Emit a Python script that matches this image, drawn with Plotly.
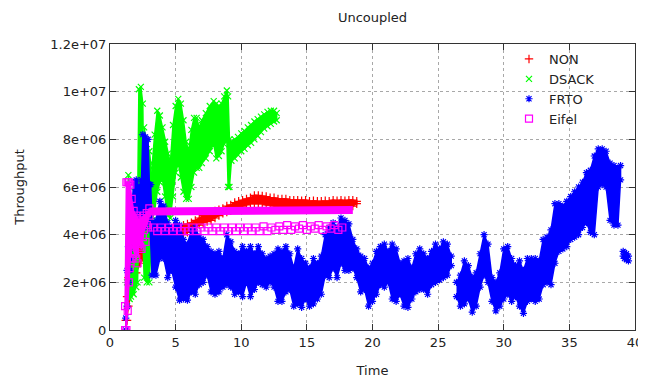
import plotly.graph_objects as go

# ---------------- data (values in units of 1e6) ----------------
non_t = [1.2, 1.3, 1.4, 1.6, 1.8, 2.0, 2.3, 2.6, 2.9, 3.2, 3.5, 3.8, 4.1, 4.4, 4.7, 5.0, 5.3, 5.6, 5.9,
         6.2, 6.5, 6.8, 7.1, 7.4, 7.7, 8.0, 8.3, 8.6, 8.9, 9.2, 9.5, 9.8, 10.1, 10.4, 10.7, 11.0, 11.3,
         11.6, 11.9, 12.2, 12.5, 12.8, 13.1, 13.4, 13.7, 14.0, 14.3, 14.6, 14.9, 15.2, 15.5, 15.8, 16.1,
         16.4, 16.7, 17.0, 17.3, 17.6, 17.9, 18.2, 18.5, 18.8]
non_lo = [0.0, 0.4, 1.0, 1.5, 2.0, 2.4, 2.8, 3.0, 3.2, 3.4, 3.7, 3.8, 3.9, 3.9, 3.7, 3.8, 4.0, 4.0, 4.1,
          4.2, 4.3, 4.4, 4.5, 4.55, 4.6, 4.7, 4.8, 4.9, 4.95, 5.0, 5.1, 5.15, 5.2, 5.25, 5.3, 5.3, 5.3,
          5.3, 5.25, 5.25, 5.2, 5.2, 5.2, 5.15, 5.15, 5.15, 5.15, 5.15, 5.15, 5.1, 5.1, 5.1, 5.1,
          5.1, 5.1, 5.1, 5.12, 5.12, 5.15, 5.15, 5.2, 5.3]
non_hi = [0.4, 1.4, 2.2, 2.6, 3.0, 3.3, 3.6, 3.8, 3.9, 4.0, 4.2, 4.3, 4.3, 4.3, 4.2, 4.25, 4.3, 4.4, 4.45,
          4.5, 4.6, 4.7, 4.8, 4.85, 4.9, 5.0, 5.05, 5.1, 5.2, 5.25, 5.35, 5.4, 5.45, 5.5, 5.55, 5.65, 5.65,
          5.62, 5.6, 5.55, 5.55, 5.5, 5.5, 5.5, 5.45, 5.45, 5.45, 5.42, 5.45, 5.4, 5.42, 5.4, 5.4,
          5.42, 5.4, 5.45, 5.42, 5.45, 5.42, 5.45, 5.45, 5.4]

dsack_t = [1.3, 1.4, 1.5, 1.6, 1.8, 2.0, 2.1, 2.2, 2.35, 2.5, 2.6, 2.8, 3.0, 3.2, 3.4, 3.6, 3.8, 4.0,
           4.2, 4.4, 4.6, 4.8, 5.0, 5.2, 5.4, 5.6, 5.8, 6.0, 6.2, 6.4, 6.6, 6.8, 7.0, 7.3, 7.6, 7.9,
           8.1, 8.3, 8.5, 8.7, 8.9, 9.0, 9.1, 9.25, 9.5, 9.75, 10.0, 10.25, 10.5, 10.75, 11.0, 11.25,
           11.5, 11.75, 12.0, 12.25, 12.5, 12.7, None, 2.6, 2.8, 3.0, 3.1]
dsack_lo = [1.0, 1.4, 1.3, 1.4, 1.5, 1.8, 2.0, 4.5, 5.0, 4.0, 2.2, 2.0, 2.0, 4.6, 5.0, 5.8, 6.2, 6.3,
            5.6, 4.8, 4.7, 5.6, 6.6, 7.0, 6.4, 5.8, 5.5, 5.5, 6.0, 6.6, 6.8, 6.8, 7.0, 7.2, 7.5, 7.8,
            7.2, 7.3, 7.5, 7.8, 8.0, 6.0, 6.0, 7.1, 7.2, 7.35, 7.5, 7.6, 7.75, 7.85, 8.0, 8.15,
            8.3, 8.45, 8.55, 8.65, 8.75, 8.8, None, 6.0, 5.6, 5.4, 5.2]
dsack_hi = [2.0, 6.5, 6.0, 3.5, 3.3, 3.6, 5.0, 10.1, 10.2, 9.5, 4.0, 4.5, 4.6, 6.8, 8.2, 9.2, 9.0, 8.5,
            7.9, 7.4, 7.0, 8.6, 9.4, 9.7, 9.5, 8.8, 7.9, 7.5, 8.4, 8.9, 8.9, 8.5, 8.8, 9.1, 9.4, 9.6,
            9.5, 9.4, 9.5, 9.8, 10.05, 9.8, 8.0, 7.9, 8.0, 8.1, 8.25, 8.35, 8.5, 8.6, 8.75, 8.85,
            8.95, 9.05, 9.15, 9.2, 9.2, 9.1, None, 8.5, 7.8, 7.5, 7.0]

frto_t = [1.2, 1.3, 1.4, 1.5, 1.6, 1.8, 2.0, 2.2, 2.4, 2.5, 2.7, 2.9, 3.0, 3.1, 3.2, 3.5, 3.8, 4.1,
          4.4, 4.7, 5.0, 5.3, 5.6, 5.9, 6.2, 6.5, 6.8, 7.1, 7.4, 7.7, 8.0, 8.3, 8.6, 8.9, 9.2, 9.5,
          9.8, 10.1, 10.4, 10.7, 11.0, 11.3, 11.6, 11.9, 12.2, 12.5, 12.8, 13.1, 13.4, 13.7, 14.0,
          14.3, 14.6, 14.9, 15.2, 15.5, 15.8, 16.1, 16.4, 16.7, 17.0, 17.3, 17.6, 17.9, 18.2, 18.5,
          18.8, 19.1, 19.4, 19.7, 20.0, 20.3, 20.6, 20.9, 21.2, 21.5, 21.8, 22.1, 22.4, 22.7, 23.0,
          23.3, 23.6, 23.9, 24.2, 24.5, 24.8, 25.1, 25.4, 25.7, 26.0, None, 26.4, 26.7, 27.0, 27.3,
          27.6, 27.9, 28.2, 28.5, 28.8, 29.1, 29.4, 29.7, 30.0, 30.3, 30.6, 30.9, 31.2, 31.5, 31.8,
          32.1, 32.4, 32.7, 33.0, 33.3, 33.6, 33.9, 34.2, 34.5, 34.8, 35.1, 35.4, 35.7, 36.0, 36.3,
          36.6, 36.9, 37.2, 37.5, 37.8, 38.1, 38.4, 38.7, 38.9, None, 39.1, 39.2, 39.35, 39.5]
frto_lo = [0.0, 1.0, 2.0, 2.5, 3.0, 4.4, 4.4, 4.4, 4.5, 4.4, 4.3, 4.5, 5.1, 4.2, 2.3, 2.3, 3.0, 3.0,
           2.2, 2.5, 1.8, 1.25, 1.3, 1.25, 1.6, 1.5, 1.9, 2.0, 2.3, 1.6, 1.5, 1.6, 1.8, 1.9, 1.8, 1.5,
           1.6, 1.4, 2.0, 1.4, 1.7, 2.0, 1.9, 1.8, 2.0, 1.8, 1.2, 1.2, 1.6, 1.7, 1.0,
           1.1, 0.95, 1.3, 1.0, 1.1, 1.3, 1.5, 2.3, 2.2, 2.6, 2.2, 2.8, 2.5, 2.5, 2.6,
           2.2, 1.6, 1.7, 1.0, 1.2, 1.5, 1.9, 1.8, 2.0, 1.3, 1.2, 1.5, 1.0, 0.95, 1.3,
           1.6, 1.7, 1.7, 1.5, 1.9, 2.0, 2.1, 2.2, 2.3, 2.7, None, 1.4, 1.0, 1.1, 1.3,
           0.75, 1.0, 1.8, 2.3, 2.0, 1.2, 0.8, 1.0, 1.3, 1.5, 1.2, 1.4, 1.0, 0.7, 1.2,
           1.3, 1.2, 1.3, 1.9, 2.0, 1.9, 2.8, 3.3, 3.4, 3.5, 3.8, 3.9, 4.0, 4.3, 4.5,
           4.1, 4.0, 6.0, 6.1, 6.0, 4.6, 4.4, 4.4, 6.3, None, 3.1, 3.0, 2.95, 2.9]
frto_hi = [0.5, 2.5, 3.5, 4.0, 4.5, 6.2, 6.3, 6.0, 6.3, 8.2, 8.1, 8.0, 6.1, 6.1, 4.5, 4.6, 5.4, 5.2,
           4.5, 4.3, 4.6, 4.4, 3.8, 3.6, 4.2, 4.3, 3.9, 3.8, 3.5, 3.3, 3.2, 3.3, 3.0, 4.0, 3.7, 3.3,
           3.2, 3.5, 3.3, 3.5, 3.2, 3.5, 3.2, 3.0, 3.1, 3.2, 3.4, 3.3, 3.5, 3.2, 2.6,
           3.4, 3.0, 2.8, 2.6, 3.0, 2.8, 3.1, 4.0, 4.3, 4.5, 4.3, 4.7, 4.6, 4.45, 3.8,
           3.4, 3.1, 3.0, 2.6, 2.8, 3.3, 3.5, 3.6, 3.3, 3.6, 3.4, 2.8, 2.9, 3.0, 2.6,
           3.2, 3.4, 3.2, 3.0, 3.3, 3.6, 3.4, 3.7, 3.6, 3.1, None, 2.0, 2.3, 2.9, 2.7,
           2.2, 2.4, 3.2, 4.0, 3.6, 2.2, 2.0, 2.4, 3.4, 3.5, 3.0, 2.7, 2.9, 2.5, 3.0,
           3.0, 3.0, 2.9, 3.8, 3.9, 4.2, 5.3, 5.3, 5.2, 5.4, 5.6, 5.8, 6.0, 6.2, 6.6,
           6.7, 7.3, 7.6, 7.6, 7.5, 7.0, 6.9, 6.8, 6.9, None, 3.3, 3.25, 3.2, 3.1]

eifel_t = [1.15, 1.25, 1.35, 1.45, 1.55, 1.65, 1.8, 2.0, 2.2, 2.4, 2.6, 2.8, 3.0]
eifel_lo = [0.0, 0.0, 0.8, 2.0, 3.0, 3.6, 3.3, 3.0, 3.6, 3.4, 4.2, 4.4, 4.8]
eifel_hi = [1.0, 6.2, 6.2, 6.2, 6.1, 5.5, 5.0, 4.8, 4.6, 4.7, 4.8, 4.9, 5.1]

eifel_band_t = [3.0, 5.0, 8.0, 11.0, 14.0, 17.0, 18.5]
eifel_band_v = [4.97, 4.98, 5.0, 5.0, 5.0, 5.02, 5.03]

eifel_sq_t = [1.5, 1.7, 1.9, 2.1, 2.3, 2.5, 2.7, 2.9, 3.3, 3.6, 3.9, 4.2, 4.5, 4.8, 5.1, 5.4, 5.7,
              6.0, 6.3, 6.6, 6.9, 7.2, 7.5, 7.8, 8.1, 8.4, 8.7, 9.0, 9.3, 9.6, 9.9, 10.2, 10.5, 10.8,
              11.1, 11.4, 11.7, 12.0, 12.3, 12.6, 12.9, 13.2, 13.5, 13.8, 14.1, 14.4, 14.7, 15.0,
              15.3, 15.6, 15.9, 16.2, 16.5, 16.8, 17.1, 17.4, 17.7]
eifel_sq_v = [2.6, 3.0, 3.2, 2.8, 3.5, 3.9, 3.7, 4.3, 4.3, 4.15, 4.3, 4.15, 4.3, 4.15, 4.3, 4.15, 4.3,
              4.15, 4.3, 4.15, 4.3, 4.15, 4.3, 4.15, 4.3, 4.15, 4.3, 4.15, 4.3, 4.15, 4.3, 4.15, 4.3, 4.15,
              4.3, 4.15, 4.35, 4.15, 4.3, 4.2, 4.35, 4.2, 4.4, 4.2, 4.35, 4.25, 4.4, 4.2,
              4.35, 4.25, 4.4, 4.2, 4.35, 4.25, 4.4, 4.2, 4.3]

x_ticks = [0, 5, 10, 15, 20, 25, 30, 35, 40]
y_ticks = [0, 2e6, 4e6, 6e6, 8e6, 1e7, 1.2e7]
y_tick_labels = ["0", "2e+06", "4e+06", "6e+06", "8e+06", "1e+07", "1.2e+07"]

SCALE = 1e6


def split_segments(ts, los, his):
    segs, cur = [], []
    for t, lo, hi in zip(ts, los, his):
        if t is None:
            if cur:
                segs.append(cur)
            cur = []
        else:
            cur.append((t, lo, hi))
    if cur:
        segs.append(cur)
    return segs


def band_polygon(ts, los, his):
    """closed outline: along the upper readings, back along the lower readings"""
    xs, ys = [], []
    for seg in split_segments(ts, los, his):
        xs += [p[0] for p in seg] + [p[0] for p in reversed(seg)] + [None]
        ys += [p[2] * SCALE for p in seg] + [p[1] * SCALE for p in reversed(seg)] + [None]
    return xs, ys


def band_points(ts, los, his):
    xs, ys = [], []
    for seg in split_segments(ts, los, his):
        for t, lo, hi in seg:
            xs += [t, t]
            ys += [lo * SCALE, hi * SCALE]
    return xs, ys


series = [
    ("NON", non_t, non_lo, non_hi, "#ff0000", "cross-thin-open"),
    ("DSACK", dsack_t, dsack_lo, dsack_hi, "#00ff00", "x-thin-open"),
    ("FRTO", frto_t, frto_lo, frto_hi, "#0000ff", "asterisk-open"),
]

fig = go.Figure()
for name, ts, los, his, col, sym in series:
    px, py = band_polygon(ts, los, his)
    fig.add_trace(go.Scatter(x=px, y=py, mode="lines", fill="toself", fillcolor=col,
                             line=dict(color=col, width=1.5), showlegend=False,
                             hoverinfo="skip", legendgroup=name))
    mx, my = band_points(ts, los, his)
    fig.add_trace(go.Scatter(x=mx, y=my, mode="markers", name=name, legendgroup=name,
                             marker=dict(symbol=sym, size=6, color=col,
                                         line=dict(color=col, width=1.2))))

MAG = "#ff00ff"
px, py = band_polygon(eifel_t, eifel_lo, eifel_hi)
fig.add_trace(go.Scatter(x=px, y=py, mode="lines", fill="toself", fillcolor=MAG,
                         line=dict(color=MAG, width=1.5), showlegend=False, legendgroup="Eifel"))
fig.add_trace(go.Scatter(x=eifel_band_t, y=[v * SCALE for v in eifel_band_v], mode="lines",
                         line=dict(color=MAG, width=8), showlegend=False, legendgroup="Eifel"))
mx, my = band_points(eifel_t, eifel_lo, eifel_hi)
fig.add_trace(go.Scatter(x=mx + eifel_sq_t, y=my + [v * SCALE for v in eifel_sq_v], mode="markers",
                         name="Eifel", legendgroup="Eifel",
                         marker=dict(symbol="square-open", size=7, color=MAG,
                                     line=dict(color=MAG, width=1.2))))

FONT = "DejaVu Sans"
TXT = "#222222"
axis_common = dict(showline=True, linecolor="#333333", linewidth=1, mirror="allticks",
                   ticks="inside", ticklen=6, tickcolor="#333333", automargin=False,
                   showgrid=True, gridcolor="#a8a8a8", griddash="dot", gridwidth=1,
                   zeroline=False, tickfont=dict(family=FONT, size=13, color=TXT))

# the page adds an 8px body margin, so the figure is sized/placed to land where the reference is
W, H = 638, 372
fig.update_layout(
    width=W, height=H,
    margin=dict(l=102, r=11, t=36, b=50),
    paper_bgcolor="white", plot_bgcolor="white",
    font=dict(family=FONT, size=13, color=TXT),
    title=dict(text="Uncoupled", x=0.5, xref="paper", xanchor="center",
               y=1 - 9 / H, yanchor="middle", font=dict(family=FONT, size=13, color=TXT)),
    xaxis=dict(range=[0, 40], tickvals=x_ticks, title=dict(text="Time", standoff=17,
               font=dict(family=FONT, size=13, color=TXT)), **axis_common),
    yaxis=dict(range=[0, 1.2e7], tickvals=y_ticks, ticktext=y_tick_labels,
               title=dict(text="Throughput", standoff=22, font=dict(family=FONT, size=13, color=TXT)),
               **axis_common),
    legend=dict(x=0.76, y=1.0, xanchor="left", yanchor="top", bgcolor="rgba(0,0,0,0)",
                font=dict(family=FONT, size=13, color=TXT), tracegroupgap=0, itemsizing="trace"),
    showlegend=True,
)

fig.write_html("out.html")
